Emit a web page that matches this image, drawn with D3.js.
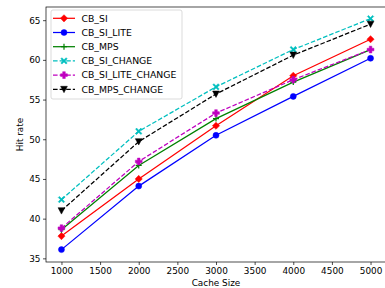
<!DOCTYPE html>
<html>
<head>
<meta charset="utf-8">
<script src="https://cdn.jsdelivr.net/npm/d3@7"></script>
<style>
  body { margin: 0; background: #fff; }
  svg { display: block; font-family: "DejaVu Sans", sans-serif; }
</style>
</head>
<body>
<svg id="chart" width="385" height="288"></svg>
<script>
const width = 385;
const height = 288;

// data
const cacheSizes = [1000, 2000, 3000, 4000, 5000];
const cbSi = [37.8, 45.0, 51.7, 58.0, 62.6];
const cbSiLite = [36.1, 44.1, 50.5, 55.4, 60.2];
const cbMps = [38.6, 46.7, 52.6, 57.2, 61.3];
const cbSiChange = [42.4, 51.0, 56.6, 61.3, 65.2];
const cbSiLiteChange = [38.8, 47.2, 53.3, 57.5, 61.3];
const cbMpsChange = [41.0, 49.7, 55.7, 60.6, 64.5];
const xTicks = [1000, 1500, 2000, 2500, 3000, 3500, 4000, 4500, 5000];
const yTicks = [35, 40, 45, 50, 55, 60, 65];

const series = [
    {name: "CB_SI", values: cbSi, color: "#ff0000", marker: "diamond", dash: null},
    {name: "CB_SI_LITE", values: cbSiLite, color: "#0000ff", marker: "circle", dash: null},
    {name: "CB_MPS", values: cbMps, color: "#008000", marker: "plus", dash: null},
    {name: "CB_SI_CHANGE", values: cbSiChange, color: "#00bfbf", marker: "xfilled", dash: "4.6,2"},
    {name: "CB_SI_LITE_CHANGE", values: cbSiLiteChange, color: "#bf00bf", marker: "pfilled", dash: "4.6,2"},
    {name: "CB_MPS_CHANGE", values: cbMpsChange, color: "#000000", marker: "tri", dash: "4.6,2"}
];

const margin = {left: 46, right: -1, top: 7, bottom: 26};
const tickFont = "8.9px";
const legendFont = "9.3px";

const svg = d3.select("#chart");

const x = d3.scaleLinear()
    .domain([800, 5200])
    .range([margin.left, width - margin.right]);

const y = d3.scaleLinear()
    .domain([34.54, 66.66])
    .range([height - margin.bottom, margin.top]);

// marker shapes, size about 5px
function markerPath(type) {
    switch (type) {
        case "diamond": return "M0,-3.6L3.6,0L0,3.6L-3.6,0Z";
        case "circle": return d3.symbol(d3.symbolCircle, Math.PI * 3 * 3)();
        case "plus": return "M-3,0H3M0,-3V3";
        case "xfilled": {
            const a = 3.2, w = 1.1;
            return `M${-a},${-a + w}L${-a + w},${-a}L0,${-w}L${a - w},${-a}L${a},${-a + w}L${w},0L${a},${a - w}L${a - w},${a}L0,${w}L${-a + w},${a}L${-a},${a - w}L${-w},0Z`;
        }
        case "pfilled": {
            const a = 3.4, w = 1.3;
            return `M${-w},${-a}H${w}V${-w}H${a}V${w}H${w}V${a}H${-w}V${w}H${-a}V${-w}H${-w}Z`;
        }
        case "tri": return "M-3.4,-3L3.4,-3L0,3.4Z";
    }
    return "";
}

// plot clip
svg.append("clipPath").attr("id", "plotClip")
  .append("rect")
    .attr("x", margin.left).attr("y", margin.top)
    .attr("width", width - margin.right - margin.left)
    .attr("height", height - margin.bottom - margin.top);

const plot = svg.append("g").attr("clip-path", "url(#plotClip)");

const line = d3.line()
    .x((d, i) => x(cacheSizes[i]))
    .y(d => y(d));

series.forEach(s => {
    plot.append("path")
        .datum(s.values)
        .attr("d", line)
        .attr("fill", "none")
        .attr("stroke", s.color)
        .attr("stroke-width", 1.25)
        .attr("stroke-dasharray", s.dash);

    plot.selectAll(null)
        .data(s.values)
        .enter()
        .append("path")
        .attr("transform", (d, i) => `translate(${x(cacheSizes[i])},${y(d)})`)
        .attr("d", markerPath(s.marker))
        .attr("fill", s.marker === "plus" ? "none" : s.color)
        .attr("stroke", s.color)
        .attr("stroke-width", s.marker === "plus" ? 1.2 : 0.5);
});

// axes
const xAxis = svg.append("g")
    .attr("transform", `translate(0,${height - margin.bottom})`)
    .call(d3.axisBottom(x).tickValues(xTicks).tickSize(3).tickPadding(3).tickFormat(d3.format("d")));

const yAxis = svg.append("g")
    .attr("transform", `translate(${margin.left},0)`)
    .call(d3.axisLeft(y).tickValues(yTicks).tickSize(3).tickPadding(2.5));

[xAxis, yAxis].forEach(a => {
    a.selectAll("text")
        .attr("font-size", tickFont)
        .attr("font-family", "DejaVu Sans")
        .attr("fill", "#000");
    a.select(".domain").remove();
    a.selectAll("line").attr("stroke", "#000").attr("stroke-width", 0.7);
});

// spines
svg.append("rect")
    .attr("x", margin.left)
    .attr("y", margin.top)
    .attr("width", width - margin.right - margin.left)
    .attr("height", height - margin.bottom - margin.top)
    .attr("fill", "none")
    .attr("stroke", "#000")
    .attr("stroke-width", 0.7);

// axis titles
svg.append("text")
    .attr("x", (margin.left + width - margin.right) / 2)
    .attr("y", 285.5)
    .attr("text-anchor", "middle")
    .attr("font-size", tickFont)
    .text("Cache Size");

svg.append("text")
    .attr("transform", `translate(22.5,${(margin.top + height - margin.bottom) / 2}) rotate(-90)`)
    .attr("text-anchor", "middle")
    .attr("font-size", tickFont)
    .text("Hit rate");

// legend
const legend = svg.append("g").attr("transform", "translate(51,10)");

legend.append("rect")
    .attr("width", 131)
    .attr("height", 89)
    .attr("rx", 2)
    .attr("fill", "#fff")
    .attr("fill-opacity", 0.8)
    .attr("stroke", "#ccc")
    .attr("stroke-width", 0.7);

series.forEach((s, i) => {
    const ly = 8.3 + i * 14.2;
    legend.append("line")
        .attr("x1", 2).attr("x2", 24)
        .attr("y1", ly).attr("y2", ly)
        .attr("stroke", s.color)
        .attr("stroke-width", 1.25)
        .attr("stroke-dasharray", s.dash);
    legend.append("path")
        .attr("transform", `translate(13,${ly})`)
        .attr("d", markerPath(s.marker))
        .attr("fill", s.marker === "plus" ? "none" : s.color)
        .attr("stroke", s.color)
        .attr("stroke-width", s.marker === "plus" ? 1.2 : 0.5);
    legend.append("text")
        .attr("x", 30.5)
        .attr("y", ly + 3.3)
        .attr("font-size", legendFont)
        .text(s.name);
});
</script>
</body>
</html>
